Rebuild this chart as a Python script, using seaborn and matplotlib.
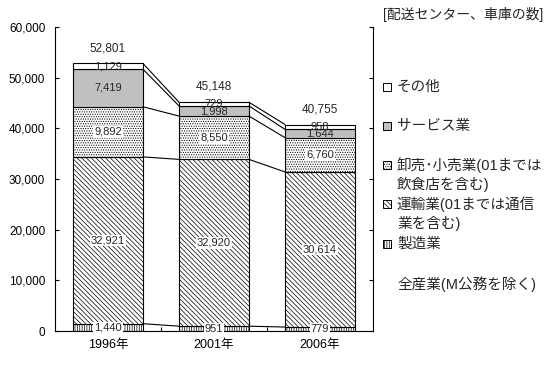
import numpy as np
import pandas as pd
import matplotlib
matplotlib.use('Agg')
import matplotlib.pyplot as plt
import seaborn as sns
from matplotlib.patches import Rectangle
from matplotlib.ticker import FuncFormatter

# data (配送センター、車庫の数)
years = ['1996年', '2001年', '2006年']
seizo = [1440, 951, 779]
unyu = [32921, 32920, 30614]
oroshi = [9892, 8550, 6760]
service = [7419, 1998, 1644]
sonota = [1129, 729, 958]
totals = [52801, 45148, 40755]

names = ['製造業', '運輸業(01までは通信\n業を含む)', '卸売･小売業(01までは\n飲食店を含む)',
         'サービス業', 'その他']
colors = ['white', 'white', 'white', '#c0c0c0', 'white']
hatches = ['|' * 7, '\\' * 7, '.' * 7, None, None]
label_bg = [True, True, True, False, False]
all_name = '全産業(M公務を除く)'

sns.set_style('ticks')
plt.rcParams['font.family'] = ['Liberation Sans', 'Noto Sans CJK JP']
plt.rcParams['hatch.linewidth'] = 0.5
plt.rcParams['axes.edgecolor'] = 'black'
plt.rcParams['xtick.color'] = 'black'
plt.rcParams['ytick.color'] = 'black'

W, H = 559, 365
fig = plt.figure(figsize=(W / 100, H / 100), dpi=100)
ax = fig.add_axes([55 / W, 34 / H, 318 / W, 304 / H])

series = [seizo, unyu, oroshi, service, sonota]
bw = 0.66
bottom = np.zeros(3)
for vals, fc, ht in zip(series, colors, hatches):
    sns.barplot(x=years, y=vals, bottom=bottom.copy(), width=bw, color=fc, saturation=1,
                edgecolor='black', linewidth=0.8, hatch=ht, ax=ax)
    bottom += np.array(vals)

cum = np.cumsum(series, axis=0)

# series lines
for level in cum:
    for i in range(len(years) - 1):
        ax.plot([i + bw / 2, i + 1 - bw / 2], [level[i], level[i + 1]], color='black', lw=0.8)

# segment labels
for k, vals in enumerate(series):
    for i in range(len(years)):
        y = cum[k][i] - vals[i] / 2
        bb = dict(facecolor='white', edgecolor='none', pad=0.6) if label_bg[k] else None
        ax.text(i, y, f'{vals[i]:,}', ha='center', va='center', fontsize=8, bbox=bb)

for i, t in enumerate(totals):
    ax.annotate(f'{t:,}', (i, t), xytext=(0, 11), textcoords='offset points',
                ha='center', va='center', fontsize=8.5)

ax.set_xlim(-0.5, 2.5)
ax.set_ylim(0, 60000)
ax.set_yticks(range(0, 60001, 10000))
ax.yaxis.set_major_formatter(FuncFormatter(lambda v, p: f'{int(v):,}'))
ax.tick_params(axis='y', direction='in', length=3, width=0.8, left=True, right=True,
               labelsize=8.5, pad=7)
ax.tick_params(axis='x', which='major', length=0, labelsize=9, pad=6)
ax.set_xticks([0.5, 1.5], minor=True)
ax.tick_params(axis='x', which='minor', direction='in', length=3, width=0.8)
ax.set_xlabel('')
ax.set_ylabel('')
for s in ['left', 'right', 'bottom']:
    ax.spines[s].set_visible(True)
    ax.spines[s].set_linewidth(0.8)
ax.spines['top'].set_visible(False)

# legend drawn on the right of the plot
def ax_x(px):
    return (px - 55) / 318

def ax_y(py):
    return (331 - py) / 304

entries = list(zip(names, colors, hatches))[::-1] + [(all_name, None, None)]
ys = [87, 126, 165, 204, 243.5, 284]
for (name, fc, ht), yc in zip(entries, ys):
    if fc is not None:
        ax.add_patch(Rectangle((ax_x(383), ax_y(yc + 4)), 8 / 318, 8 / 304, transform=ax.transAxes,
                               facecolor=fc, edgecolor='black', linewidth=0.7, hatch=ht,
                               clip_on=False))
    for j, line in enumerate(name.split('\n')):
        ax.text(ax_x(397), ax_y(yc + j * 19.5), line, transform=ax.transAxes, ha='left',
                va='center', fontsize=10.5, clip_on=False)

fig.text(383 / W, 1 - 15 / H, '[配送センター、車庫の数]', ha='left', va='center', fontsize=10)

fig.savefig('out.png', dpi=100)
